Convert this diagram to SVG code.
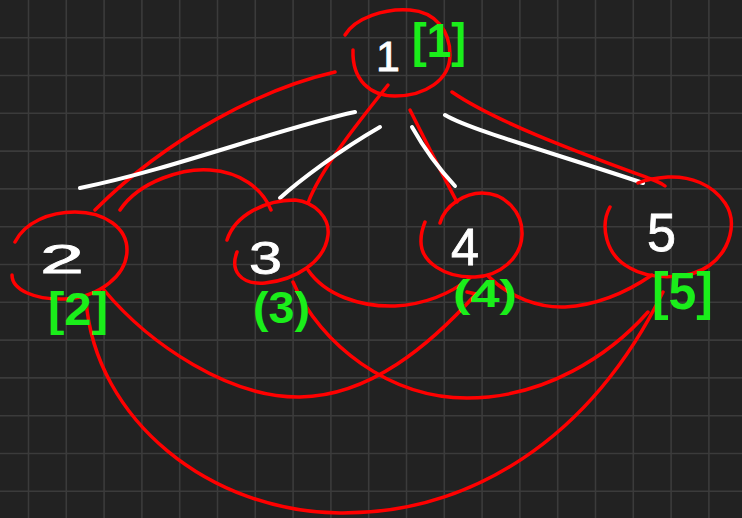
<svg xmlns="http://www.w3.org/2000/svg" width="742" height="518" viewBox="0 0 742 518">
<style>
.grid{stroke:#3b3b3b;stroke-width:1.6;fill:none}
.red{stroke:#ff0000;stroke-width:3.5;fill:none;stroke-linecap:round;stroke-linejoin:round}
.wht{stroke:#ffffff;stroke-width:4;fill:none;stroke-linecap:round}
.num{fill:#ffffff;stroke:#ffffff;stroke-width:0.8;font-family:"Liberation Sans",Arial,sans-serif}
.lbl{fill:#1aee1a;font-family:"Liberation Sans",Arial,sans-serif;font-weight:bold}
</style>
<rect width="742" height="518" fill="#222222"/>
<path class="grid" d="M28.5,0V518M66.3,0V518M104.1,0V518M141.9,0V518M179.7,0V518M217.5,0V518M255.3,0V518M293.1,0V518M330.9,0V518M368.7,0V518M406.5,0V518M444.3,0V518M482.1,0V518M519.9,0V518M557.7,0V518M595.5,0V518M633.3,0V518M671.1,0V518M708.9,0V518M0,37.7H742M0,75.5H742M0,113.3H742M0,151.1H742M0,188.9H742M0,226.7H742M0,264.5H742M0,302.3H742M0,340.1H742M0,377.9H742M0,415.7H742M0,453.5H742M0,491.3H742"/>
<g id="connectors">
<path class="red" d="M335,72 C265,88 170,135 95,210"/>
<path class="wht" d="M355,112 C280,128 170,170 80,188"/>
<path class="red" d="M120,210 C140,180 185,168 210,170 C240,172 262,188 271,210"/>
<path class="red" d="M388,85 C360,120 320,170 308,203"/>
<path class="wht" d="M380,127 C340,150 300,180 280,198"/>
<path class="red" d="M410,110 C425,140 440,170 457,202"/>
<path class="wht" d="M412,127 C425,150 440,170 455,186"/>
<path class="wht" d="M445,115 C470,130 560,155 643,183"/>
<path class="red" d="M452,92 C500,125 600,160 648,178 Q660,182 665,186"/>
<path class="red" d="M308,270 C325,295 360,307 395,306 C430,304 455,290 470,278"/>
<path class="red" d="M488,276 C510,298 540,308 565,307 C600,305 630,290 652,275"/>
<path class="red" d="M104,290 C150,345 230,398 300,397 C370,396 430,345 476,294 L467,292"/>
<path class="red" d="M293,282 C320,345 390,398 467,398 C545,398 610,355 648,312"/>
<path class="red" d="M86,300 C95,420 210,512 340,513 C470,514 590,440 663,292"/>
</g>
<g id="node1">
<path class="red" d="M345,35 C355,18 385,8 410,10 C435,12 450,30 450,55 C450,80 425,96 395,96 C370,96 352,80 353,50"/>
<text class="num" x="388" y="71" font-size="43" text-anchor="middle">1</text>
<text class="lbl" x="412" y="57" font-size="48" textLength="54" lengthAdjust="spacingAndGlyphs">[1]</text>
</g>
<g id="node2">
<path class="red" d="M15,242 C25,222 50,212 75,212 C105,212 127,228 127,250 C127,275 100,297 65,299 C35,300 12,290 12,275"/>
<text class="num" x="40" y="273" font-size="40" textLength="44" lengthAdjust="spacingAndGlyphs">2</text>
<text class="lbl" x="48" y="325" font-size="46" textLength="60" lengthAdjust="spacingAndGlyphs">[2]</text>
</g>
<g id="node3">
<path class="red" d="M227,240 C235,215 265,200 295,200 C315,202 330,218 328,235 C325,262 295,280 265,283 C240,285 230,270 237,252"/>
<text class="num" x="249" y="274" font-size="47" textLength="33" lengthAdjust="spacingAndGlyphs">3</text>
<text class="lbl" x="253" y="323" font-size="44" textLength="57" lengthAdjust="spacingAndGlyphs">(3)</text>
</g>
<g id="node4">
<path class="red" d="M440,223 C445,205 465,193 482,193 C505,193 523,212 522,235 C521,258 500,276 475,277 C445,278 420,262 421,240 C421,233 423,227 425,222"/>
<text class="num" x="451" y="265" font-size="52" textLength="28" lengthAdjust="spacingAndGlyphs">4</text>
<text class="lbl" x="453" y="307" font-size="38" textLength="64" lengthAdjust="spacingAndGlyphs">(4)</text>
</g>
<g id="node5">
<path class="red" d="M610,207 C600,225 605,255 630,268 C650,280 690,280 710,265 C730,250 738,222 725,203 C712,184 690,176 668,177 C655,178 645,180 638,183"/>
<text class="num" x="647" y="251" font-size="53" textLength="29" lengthAdjust="spacingAndGlyphs">5</text>
<text class="lbl" x="652" y="309" font-size="52" textLength="61" lengthAdjust="spacingAndGlyphs">[5]</text>
</g>
</svg>
